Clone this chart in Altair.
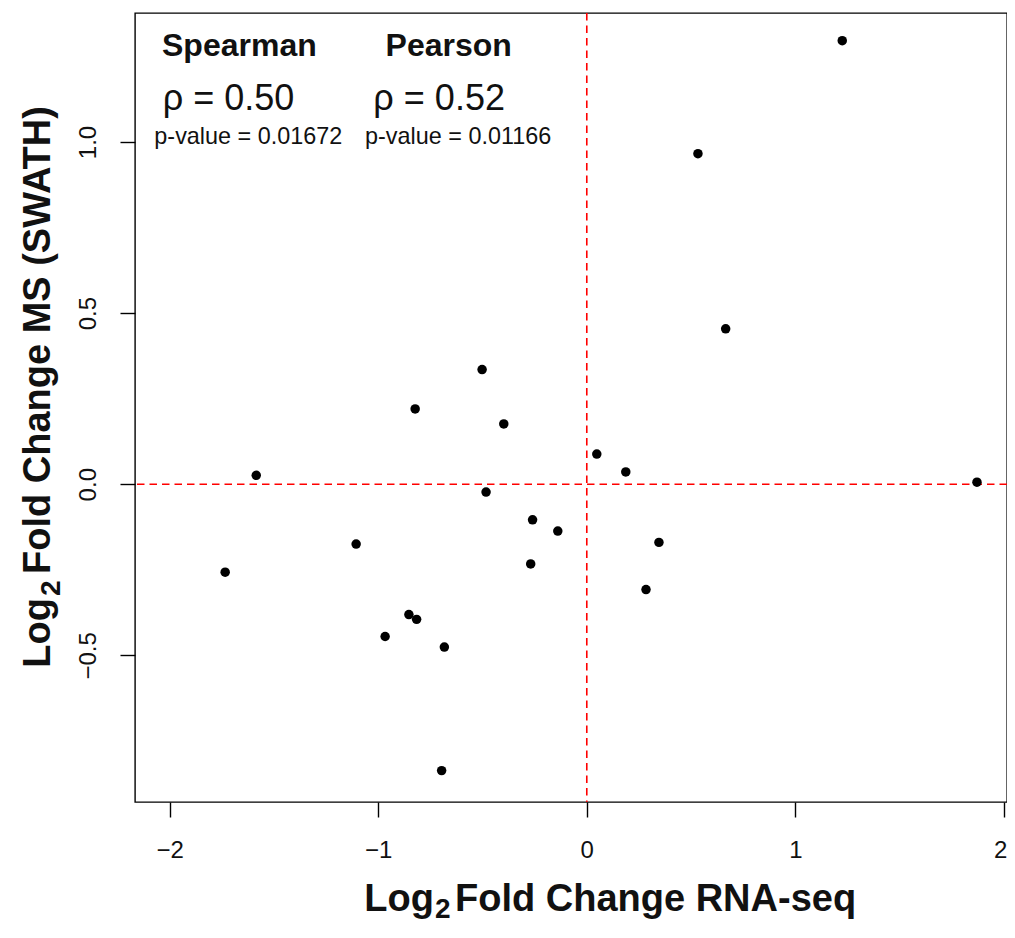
import altair as alt
import pandas as pd

# ---- data ----
rna_seq = [1.225, 0.533, 0.666, -0.502, -0.398, -0.823, 0.048, 0.187, 1.871, -1.585,
           -0.483, -0.260, -0.139, 0.346, -1.106, -1.734, -0.269, 0.284, -0.853, -0.816,
           -0.967, -0.683, -0.696]
swath = [1.296, 0.966, 0.454, 0.335, 0.176, 0.220, 0.088, 0.036, 0.006, 0.026,
         -0.023, -0.104, -0.137, -0.170, -0.175, -0.257, -0.233, -0.308, -0.381, -0.395,
         -0.445, -0.476, -0.837]

x_ticks = [-2, -1, 0, 1, 2]
y_ticks = [-0.5, 0.0, 0.5, 1.0]

headers = ["Spearman", "Pearson"]
rhos = ["\u03c1 = 0.50", "\u03c1 = 0.52"]
pvals = ["p-value = 0.01672", "p-value = 0.01166"]

# annotation anchors (data units, like R's text())
head_x = [-1.666, -0.662]
head_y = [1.252, 1.252]
rho_x = [-1.718, -0.708]
rho_y = [1.094, 1.094]
pval_x = [-1.623, -0.617]
pval_y = [0.995, 0.995]

X_DOMAIN = [-2.1664, 2.015]
Y_DOMAIN = [-0.9287, 1.377]

FONT = "Liberation Sans"

xscale = alt.Scale(domain=X_DOMAIN, nice=False, zero=False)
yscale = alt.Scale(domain=Y_DOMAIN, nice=False, zero=False)

df = pd.DataFrame({"rna": rna_seq, "swath": swath})

last_tick = "datum.value == 2"

points = alt.Chart(df).mark_circle(size=90, color="#000000", opacity=1).encode(
    x=alt.X("rna:Q", scale=xscale,
            axis=alt.Axis(values=x_ticks, format="d", title=None, labelFontSize=24,
                          labelPadding=40, labelBaseline="alphabetic",
                          labelAlign=alt.condition(last_tick, alt.value("right"), alt.value("center")),
                          labelOffset=alt.condition(last_tick, alt.value(3), alt.value(0)))),
    y=alt.Y("swath:Q", scale=yscale,
            axis=alt.Axis(values=y_ticks, format=".1f", title=None, labelFontSize=24,
                          labelAngle=270, labelAlign="center", labelBaseline="alphabetic",
                          labelPadding=25)),
)

hrule = alt.Chart(pd.DataFrame({"v": [0]})).mark_rule(
    color="#ff0000", strokeDash=[7.5, 5], strokeWidth=1.6
).encode(y=alt.Y("v:Q", scale=yscale))
vrule = alt.Chart(pd.DataFrame({"v": [0]})).mark_rule(
    color="#ff0000", strokeDash=[7.5, 5], strokeWidth=1.6
).encode(x=alt.X("v:Q", scale=xscale))


def ann_layer(xs, ys, labels, size, weight):
    d = pd.DataFrame({"x": xs, "y": ys, "label": labels})
    return alt.Chart(d).mark_text(
        font=FONT, fontSize=size, fontWeight=weight, color="#111111",
        align="center", baseline="alphabetic"
    ).encode(x=alt.X("x:Q", scale=xscale), y=alt.Y("y:Q", scale=yscale), text="label:N")


head_layer = ann_layer(head_x, head_y, headers, 32, "bold")
rho_layer = ann_layer(rho_x, rho_y, rhos, 36, "normal")
pval_layer = ann_layer(pval_x, pval_y, pvals, 23.4, "normal")


def title_piece(txt, x, y, size, align, angle=0):
    return alt.Chart(pd.DataFrame({"t": [txt]})).mark_text(
        font=FONT, fontSize=size, fontWeight="bold", color="#111111",
        align=align, baseline="alphabetic", angle=angle
    ).encode(x=alt.value(x), y=alt.value(y), text="t:N")


# x axis title: Log_2 Fold Change RNA-seq
xt1 = title_piece("Log", 299, 898, 38, "right")
xt2 = title_piece("2", 300, 905, 28, "left")
xt3 = title_piece("Fold Change RNA-seq", 320, 898, 38, "left")
# y axis title: Log_2 Fold Change MS (SWATH)
yt1 = title_piece("Log", -85, 585, 38, "right", 270)
yt2 = title_piece("2", -75, 583, 28, "left", 270)
yt3 = title_piece("Fold Change MS (SWATH)", -85, 561, 38, "left", 270)

chart = alt.layer(
    hrule, vrule, points, head_layer, rho_layer, pval_layer,
    xt1, xt2, xt3, yt1, yt2, yt3
).properties(
    width=872, height=789,
    autosize=alt.AutoSizeParams(type="none"),
    padding={"left": 127, "top": 5, "right": 0, "bottom": 123},
    background="white",
).configure_view(
    stroke="#000000", strokeWidth=1.4
).configure_axis(
    domain=False, grid=False, ticks=True, tickSize=15, tickWidth=1.4, tickColor="#000000",
    labelFont=FONT, labelColor="#111111",
)

chart.save("out.html", embed_options={"renderer": "svg", "actions": False})
